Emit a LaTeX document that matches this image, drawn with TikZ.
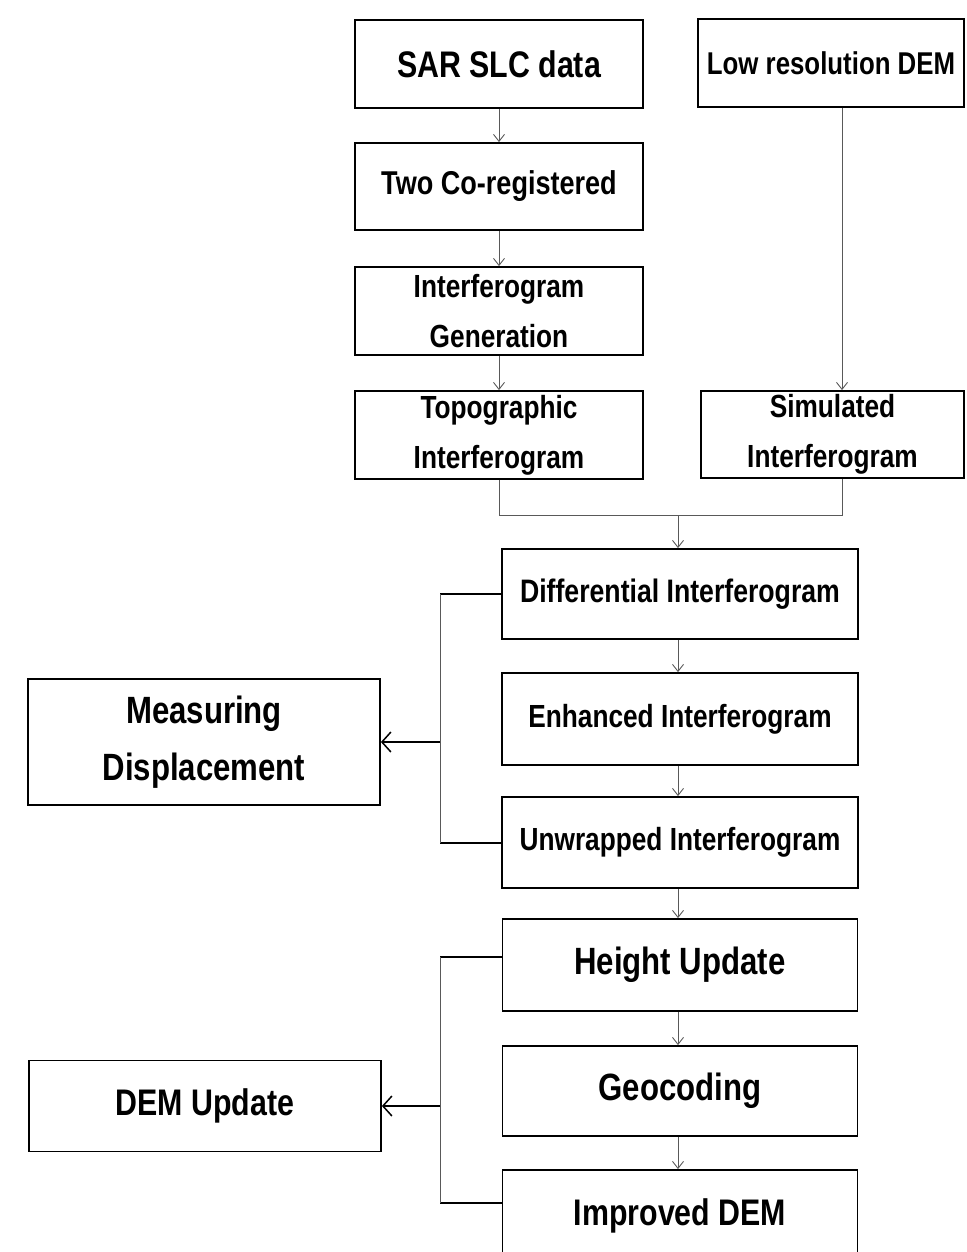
\documentclass[tikz,border=0pt]{standalone}
\usepackage{fontspec}
\newfontfamily\nf{Liberation Sans}[FakeStretch=0.82]
\usetikzlibrary{arrows.meta}
\newcommand{\fs}[1]{\fontsize{#1}{50}\selectfont}
\newcommand{\fsw}[2]{\fontsize{#1}{#2}\selectfont}
\tikzset{
  box/.style={draw=black, line width=1.8pt, fill=white, inner sep=0pt, align=center},
  conn/.style={draw=black!65, line width=0.9pt},
  flow/.style={conn, -{Straight Barb[length=7pt,width=11pt,line width=0.9pt]}},
  stub/.style={draw=black, line width=2pt},
  outarr/.style={draw=black, line width=1.5pt, -{Straight Barb[length=9pt,width=20pt,line width=1.5pt]}}
}
\begin{document}
\begin{tikzpicture}[x=1pt,y=-1pt]
\useasboundingbox (0,0) rectangle (966,1252);
% upper boxes
\node[box, minimum width=288pt, minimum height=88pt, font=\nf\bfseries\fs{37}] (sar) at (499,64) {SAR SLC data};
\node[box, minimum width=266pt, minimum height=88pt, font=\nf\bfseries\fs{31.5}] (lowdem) at (831,63) {Low resolution DEM};
\node[box, minimum width=288pt, minimum height=87pt, font=\nf\bfseries\fs{33}] (coreg) at (499,186.5) {Two Co-registered};
\node[box, minimum width=288pt, minimum height=88pt, font=\nf\bfseries\fs{32}] (ifg) at (499,311) {Interferogram\\Generation};
\node[box, minimum width=288pt, minimum height=88pt, font=\nf\bfseries\fs{32}] (topo) at (499,435) {Topographic\\Interferogram};
\node[box, minimum width=263pt, minimum height=87pt, font=\nf\bfseries\fs{32}] (sim) at (832.5,434.5) {Simulated\\Interferogram};
% lower column
\node[box, minimum width=356pt, minimum height=90pt, font=\nf\bfseries\fs{32.5}] (diff) at (680,594) {Differential Interferogram};
\node[box, minimum width=356pt, minimum height=92pt, font=\nf\bfseries\fs{32}] (enh) at (680,719) {Enhanced Interferogram};
\node[box, minimum width=356pt, minimum height=91pt, font=\nf\bfseries\fs{32}] (unw) at (680,842.5) {Unwrapped Interferogram};
\node[box, minimum width=355pt, minimum height=92pt, font=\nf\bfseries\fs{38}] (height) at (680,965) {Height Update};
\node[box, minimum width=355pt, minimum height=90pt, font=\nf\bfseries\fs{38}] (geo) at (680,1091) {Geocoding};
\node[box, minimum width=355pt, minimum height=92pt, font=\nf\bfseries\fs{37}] (imp) at (680,1216) {Improved DEM};
% left boxes
\node[box, minimum width=352pt, minimum height=126pt, font=\nf\bfseries\fsw{38}{57}] (meas) at (204,742) {Measuring\\Displacement};
\node[box, minimum width=352pt, minimum height=91pt, font=\nf\bfseries\fs{37}] (demup) at (205,1106) {DEM Update};
% helper coordinates
\coordinate (dl) at (842,0);
\coordinate (mergey) at (0,515);
\coordinate (mx) at (678,0);
\coordinate (bx) at (440,0);
% upper flow
\draw[flow] (sar) -- (coreg);
\draw[flow] (coreg) -- (ifg);
\draw[flow] (ifg) -- (topo);
\draw[flow] (lowdem.south -| dl) -- (sim.north -| dl);
\draw[conn] (topo.south) -- (topo.south |- mergey) -- (mergey -| dl) -- (sim.south -| dl);
\draw[flow] (mergey -| mx) -- (diff.north -| mx);
% lower flow
\draw[flow] (diff.south -| mx) -- (enh.north -| mx);
\draw[flow] (enh.south -| mx) -- (unw.north -| mx);
\draw[flow] (unw.south -| mx) -- (height.north -| mx);
\draw[flow] (height.south -| mx) -- (geo.north -| mx);
\draw[flow] (geo.south -| mx) -- (imp.north -| mx);
% bracket to Measuring Displacement
\draw[stub] (diff.west) -- (diff.west -| bx);
\draw[stub] (unw.west) -- (unw.west -| bx);
\draw[conn] (diff.west -| bx) -- (unw.west -| bx);
\draw[outarr] (meas.east -| bx) -- (meas.east);
% bracket to DEM Update
\draw[stub] ([yshift=8pt]height.west) -- ([yshift=8pt]height.west -| bx);
\draw[stub] ([yshift=13pt]imp.west) -- ([yshift=13pt]imp.west -| bx);
\draw[conn] ([yshift=8pt]height.west -| bx) -- ([yshift=13pt]imp.west -| bx);
\draw[outarr] (demup.east -| bx) -- (demup.east);
\end{tikzpicture}
\end{document}
